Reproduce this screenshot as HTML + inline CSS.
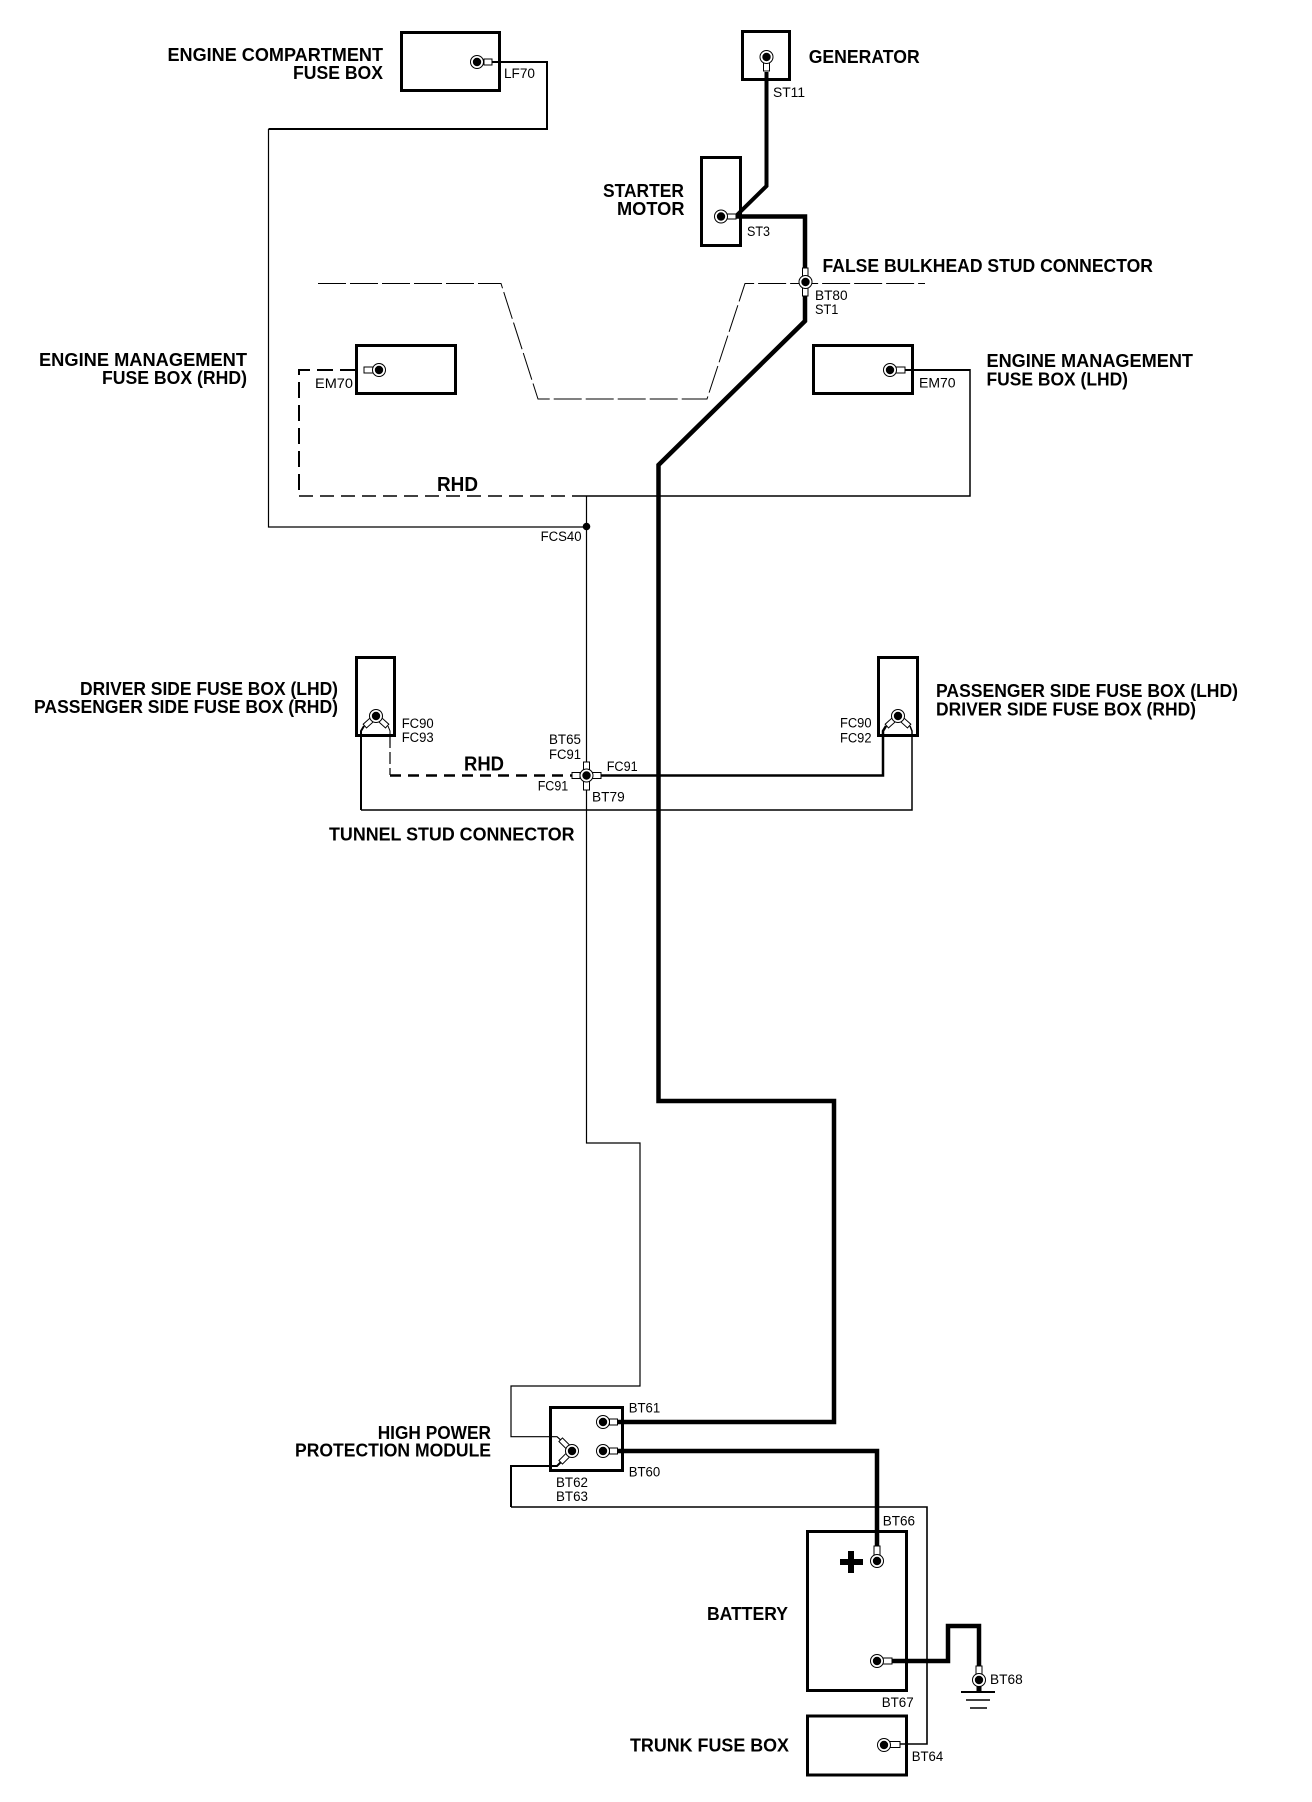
<!DOCTYPE html>
<html><head><meta charset="utf-8"><style>
html,body{margin:0;padding:0;background:#fff}
svg{display:block}
text{font-family:"Liberation Sans",sans-serif;fill:#000}
.b{font-weight:bold;font-size:18px}
.r{font-size:13.5px}
.h{font-weight:bold;font-size:20px}
.box{fill:none;stroke:#000;stroke-width:3}
.w{fill:none;stroke:#000;stroke-linejoin:miter}
.s{fill:#fff;stroke:#000;stroke-width:1}
</style></head><body>
<svg width="1312" height="1802" viewBox="0 0 1312 1802" xmlns="http://www.w3.org/2000/svg">
<defs>
<g id="st"><circle r="6.5" fill="#fff" stroke="#000" stroke-width="1"/><circle r="4.2" fill="#000"/></g>
</defs>
<rect width="1312" height="1802" fill="#fff"/>

<!-- boxes -->
<rect class="box" x="401.5" y="32.5" width="98" height="58"/>
<rect class="box" x="742.5" y="31.5" width="47" height="48"/>
<rect class="box" x="701.5" y="157.5" width="39" height="88"/>
<rect class="box" x="356.5" y="345.5" width="99" height="48"/>
<rect class="box" x="813.5" y="345.5" width="99" height="48"/>
<rect class="box" x="356.5" y="657.5" width="38" height="78"/>
<rect class="box" x="878.5" y="657.5" width="39" height="78"/>
<rect class="box" x="550.5" y="1407.5" width="72" height="63"/>
<rect class="box" x="807.5" y="1531.5" width="99" height="159"/>
<rect class="box" x="807.5" y="1716" width="99" height="59"/>

<!-- thin wires -->
<path class="w" stroke-width="2" d="M491 62H547V129H268.5"/>
<path class="w" stroke-width="1.2" d="M268.5 129V527H586.5"/>
<path class="w" stroke-width="1.2" d="M586.5 496V1143H640V1386H511V1436.7H557L563 1442"/>
<path class="w" stroke-width="2" d="M563 1460L557 1466H511V1507"/>
<path class="w" stroke-width="1.6" d="M511 1507H927V1744H900"/>
<circle cx="586.5" cy="526.5" r="3.8" fill="#000"/>

<!-- LHD engine mgmt -->
<path class="w" stroke-width="2" d="M905 370H970"/>
<path class="w" stroke-width="1.5" d="M970 369V496H586"/>

<!-- RHD dashed -->
<path class="w" stroke-width="2" stroke-dasharray="16 7" d="M356 370H299V496"/>
<path class="w" stroke-width="1.5" stroke-dasharray="14 7" d="M299 496H586"/>

<!-- bulkhead line -->
<path class="w" stroke-width="1" stroke-dasharray="28 4" d="M318 283.5H501L538 399H707L745 283.5H925"/>

<!-- heavy wires -->
<path class="w" stroke-width="4" d="M766.5 72V186L735.5 216.5"/>
<path class="w" stroke-width="4.5" d="M730 216.5H805V270"/>
<path class="w" stroke-width="4.5" d="M805 296V321L658.5 465V1101H834V1422H617"/>
<path class="w" stroke-width="4.5" d="M617 1451H877V1547"/>
<path class="w" stroke-width="4.5" d="M889 1661H948V1626H979V1668"/>
<path class="w" stroke-width="5" d="M979 1685V1692"/>

<!-- fuse-box lower wires -->
<path class="w" stroke-width="2" d="M364 726L361 731V810"/>
<path class="w" stroke-width="1.5" d="M361 810H912V731L910 726"/>
<path class="w" stroke-width="1" d="M388 726L390 731V736"/>
<path class="w" stroke-width="1.2" stroke-dasharray="12 4" d="M390 736V775"/>
<path class="w" stroke-width="2.5" stroke-dasharray="11 7" d="M390 775.5H572"/>
<path class="w" stroke-width="2.5" d="M600 775.5H883V731L886 726"/>

<!-- ground -->
<path class="w" stroke-width="2" d="M961 1692H995"/>
<path class="w" stroke-width="1.6" d="M966 1700H990M970 1708H987"/>

<!-- plus -->
<path d="M848 1551H854V1559H863V1565H854V1573H848V1565H840V1559H848Z" fill="#000"/>

<!-- lugs -->
<rect class="s" x="484" y="59" width="8" height="6"/>
<rect class="s" x="763.5" y="63" width="6" height="8"/>
<rect class="s" x="727" y="214" width="9" height="5"/>
<rect class="s" x="802.5" y="268" width="5.5" height="8"/>
<rect class="s" x="802.5" y="288" width="5.5" height="8"/>
<rect class="s" x="364" y="367" width="9" height="6"/>
<rect class="s" x="896" y="367" width="9" height="6"/>
<rect class="s" x="583.5" y="762" width="6" height="8"/>
<rect class="s" x="583.5" y="781" width="6" height="9"/>
<rect class="s" x="572" y="772.5" width="8" height="6"/>
<rect class="s" x="592" y="772.5" width="9" height="6"/>
<rect class="s" x="609.5" y="1419" width="8" height="6"/>
<rect class="s" x="609.5" y="1448" width="8" height="6"/>
<rect class="s" x="874" y="1546" width="6" height="9"/>
<rect class="s" x="883" y="1658" width="9" height="6"/>
<rect class="s" x="976" y="1666" width="6" height="8"/>
<rect class="s" x="890" y="1741.5" width="10" height="6"/>
<g transform="translate(376 716)"><rect class="s" x="-2.5" y="6" width="5" height="9" transform="rotate(48)"/><rect class="s" x="-2.5" y="6" width="5" height="9" transform="rotate(-48)"/></g>
<g transform="translate(898 716)"><rect class="s" x="-2.5" y="6" width="5" height="9" transform="rotate(48)"/><rect class="s" x="-2.5" y="6" width="5" height="9" transform="rotate(-48)"/></g>
<g transform="translate(572 1451)"><rect class="s" x="-2.5" y="6" width="5" height="10" transform="rotate(45)"/><rect class="s" x="-2.5" y="6" width="5" height="10" transform="rotate(135)"/></g>

<!-- studs -->
<use href="#st" x="477" y="62"/>
<use href="#st" x="766.5" y="57"/>
<use href="#st" x="721" y="216.5"/>
<use href="#st" x="805.5" y="282"/>
<use href="#st" x="379" y="370"/>
<use href="#st" x="890" y="370"/>
<use href="#st" x="376" y="716"/>
<use href="#st" x="898" y="716"/>
<use href="#st" x="586.5" y="775.5"/>
<use href="#st" x="603" y="1422"/>
<use href="#st" x="603" y="1451"/>
<use href="#st" x="572" y="1451"/>
<use href="#st" x="877" y="1561"/>
<use href="#st" x="877" y="1661"/>
<use href="#st" x="979" y="1680"/>
<use href="#st" x="884" y="1745"/>

<!-- bold labels -->
<text class="b" x="167.5" y="61" textLength="215.5" lengthAdjust="spacingAndGlyphs">ENGINE COMPARTMENT</text>
<text class="b" x="293" y="79" textLength="90" lengthAdjust="spacingAndGlyphs">FUSE BOX</text>
<text class="b" x="39" y="366" textLength="208" lengthAdjust="spacingAndGlyphs">ENGINE MANAGEMENT</text>
<text class="b" x="102" y="384" textLength="145" lengthAdjust="spacingAndGlyphs">FUSE BOX (RHD)</text>
<text class="b" x="603" y="197" textLength="81" lengthAdjust="spacingAndGlyphs">STARTER</text>
<text class="b" x="617" y="215" textLength="67.5" lengthAdjust="spacingAndGlyphs">MOTOR</text>
<text class="b" x="808.7" y="63" textLength="111" lengthAdjust="spacingAndGlyphs">GENERATOR</text>
<text class="b" x="822.5" y="272" textLength="330.5" lengthAdjust="spacingAndGlyphs">FALSE BULKHEAD STUD CONNECTOR</text>
<text class="b" x="986.5" y="367" textLength="206.5" lengthAdjust="spacingAndGlyphs">ENGINE MANAGEMENT</text>
<text class="b" x="986.5" y="385.5" textLength="141.5" lengthAdjust="spacingAndGlyphs">FUSE BOX (LHD)</text>
<text class="b" x="80" y="695" textLength="258" lengthAdjust="spacingAndGlyphs">DRIVER SIDE FUSE BOX (LHD)</text>
<text class="b" x="34" y="713" textLength="304" lengthAdjust="spacingAndGlyphs">PASSENGER SIDE FUSE BOX (RHD)</text>
<text class="b" x="936" y="697" textLength="302" lengthAdjust="spacingAndGlyphs">PASSENGER SIDE FUSE BOX (LHD)</text>
<text class="b" x="936" y="715.5" textLength="260" lengthAdjust="spacingAndGlyphs">DRIVER SIDE FUSE BOX (RHD)</text>
<text class="b" x="329" y="840.7" textLength="245.5" lengthAdjust="spacingAndGlyphs">TUNNEL STUD CONNECTOR</text>
<text class="b" x="377.7" y="1439" textLength="113.3" lengthAdjust="spacingAndGlyphs">HIGH POWER</text>
<text class="b" x="295" y="1456.5" textLength="196" lengthAdjust="spacingAndGlyphs">PROTECTION MODULE</text>
<text class="b" x="707" y="1620" textLength="81" lengthAdjust="spacingAndGlyphs">BATTERY</text>
<text class="b" x="630" y="1751.7" textLength="159" lengthAdjust="spacingAndGlyphs">TRUNK FUSE BOX</text>
<text class="h" x="437" y="491" textLength="41" lengthAdjust="spacingAndGlyphs">RHD</text>
<text class="h" x="464" y="770.7" textLength="40" lengthAdjust="spacingAndGlyphs">RHD</text>

<!-- small labels -->
<text class="r" x="504" y="78" textLength="31" lengthAdjust="spacingAndGlyphs">LF70</text>
<text class="r" x="773" y="97" textLength="32" lengthAdjust="spacingAndGlyphs">ST11</text>
<text class="r" x="747" y="236" textLength="23" lengthAdjust="spacingAndGlyphs">ST3</text>
<text class="r" x="815" y="300" textLength="32.6" lengthAdjust="spacingAndGlyphs">BT80</text>
<text class="r" x="815" y="314" textLength="23.4" lengthAdjust="spacingAndGlyphs">ST1</text>
<text class="r" x="315" y="388" textLength="38" lengthAdjust="spacingAndGlyphs">EM70</text>
<text class="r" x="919" y="387.5" textLength="36.6" lengthAdjust="spacingAndGlyphs">EM70</text>
<text class="r" x="540.6" y="541" textLength="41" lengthAdjust="spacingAndGlyphs">FCS40</text>
<text class="r" x="401.7" y="728" textLength="32" lengthAdjust="spacingAndGlyphs">FC90</text>
<text class="r" x="401.7" y="742" textLength="32" lengthAdjust="spacingAndGlyphs">FC93</text>
<text class="r" x="840" y="727.7" textLength="31.5" lengthAdjust="spacingAndGlyphs">FC90</text>
<text class="r" x="840" y="742.7" textLength="31.5" lengthAdjust="spacingAndGlyphs">FC92</text>
<text class="r" x="549" y="744" textLength="32" lengthAdjust="spacingAndGlyphs">BT65</text>
<text class="r" x="549" y="759" textLength="32" lengthAdjust="spacingAndGlyphs">FC91</text>
<text class="r" x="606.7" y="771" textLength="31" lengthAdjust="spacingAndGlyphs">FC91</text>
<text class="r" x="537.7" y="790.7" textLength="30.5" lengthAdjust="spacingAndGlyphs">FC91</text>
<text class="r" x="592" y="801.7" textLength="32.7" lengthAdjust="spacingAndGlyphs">BT79</text>
<text class="r" x="628.7" y="1412.7" textLength="31.5" lengthAdjust="spacingAndGlyphs">BT61</text>
<text class="r" x="628.7" y="1476.7" textLength="31.5" lengthAdjust="spacingAndGlyphs">BT60</text>
<text class="r" x="556" y="1487" textLength="32" lengthAdjust="spacingAndGlyphs">BT62</text>
<text class="r" x="556" y="1501" textLength="32" lengthAdjust="spacingAndGlyphs">BT63</text>
<text class="r" x="882.7" y="1525.7" textLength="32.3" lengthAdjust="spacingAndGlyphs">BT66</text>
<text class="r" x="881.7" y="1707" textLength="32" lengthAdjust="spacingAndGlyphs">BT67</text>
<text class="r" x="911.7" y="1761" textLength="31.5" lengthAdjust="spacingAndGlyphs">BT64</text>
<text class="r" x="990" y="1684" textLength="32.7" lengthAdjust="spacingAndGlyphs">BT68</text>
</svg>
</body></html>
